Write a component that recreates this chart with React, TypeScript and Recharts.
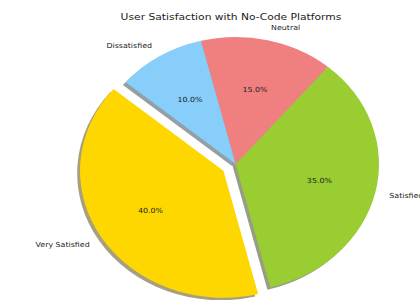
import React from 'react'
import { PieChart, Pie, Cell } from 'recharts'

const LABELS = ['Very Satisfied', 'Satisfied', 'Neutral', 'Dissatisfied']
const VALUES = [40, 35, 15, 10]
const COLORS = ['#FFD700', '#9ACD32', '#F08080', '#87CEFA']
const EXPLODE = [0.1, 0, 0, 0]
const TITLE = 'User Satisfaction with No-Code Platforms'

const data = LABELS.map((name, i) => ({ name, value: VALUES[i] }))

// the figure was squeezed, so the pie (and its text) is stretched sideways
const CX = 235.6
const CY = 164
const R = 127
const SX = 143.4 / 127
const START = 140
const TITLE_X = 231
const RAD = Math.PI / 180
const FONT = 'DejaVu Sans, sans-serif'

const total = VALUES.reduce((a, b) => a + b, 0)
const mids = VALUES.map((v, i) => {
  const before = VALUES.slice(0, i).reduce((a, b) => a + b, 0)
  return START + ((before + v / 2) / total) * 360
})

// darker, half transparent copy like matplotlib's shadow=True
function shade(hex: string) {
  const n = parseInt(hex.slice(1), 16)
  const r = Math.round(((n >> 16) & 255) * 0.3)
  const g = Math.round(((n >> 8) & 255) * 0.3)
  const b = Math.round((n & 255) * 0.3)
  return `rgb(${r},${g},${b})`
}

const SHADOW = 0.02 * R

function makeLabel(showExploded: boolean) {
  return (props: any) => {
    const { cx, cy, midAngle, index, percent } = props
    const exploded = EXPLODE[index] > 0
    if (exploded !== showExploded) return null
    const cos = Math.cos(-midAngle * RAD)
    const sin = Math.sin(-midAngle * RAD)
    return (
      <g key={`lbl-${index}`}>
        <text
          x={cx + 1.1 * R * cos}
          y={cy + 1.1 * R * sin}
          textAnchor={cos < 0 ? 'end' : 'start'}
          dominantBaseline="central"
          fontSize={7}
          fontFamily={FONT}
          fill="#222"
        >
          {LABELS[index]}
        </text>
        <text
          x={cx + 0.6 * R * cos}
          y={cy + 0.6 * R * sin}
          textAnchor="middle"
          dominantBaseline="central"
          fontSize={7}
          fontFamily={FONT}
          fill="#222"
        >
          {(percent * 100).toFixed(1)}%
        </text>
      </g>
    )
  }
}

function offset(i: number) {
  const d = EXPLODE[i] * R
  return { dx: d * Math.cos(-mids[i] * RAD), dy: d * Math.sin(-mids[i] * RAD) }
}

export default function App() {
  const ex = offset(0)
  // title centre in the unscaled coordinates of the stretched layer
  const titleLocal = CX + (TITLE_X - CX) / SX
  return (
    <div
      style={{
        position: 'absolute',
        left: 0,
        top: 0,
        width: 420,
        height: 300,
        overflow: 'hidden',
        background: '#fff',
      }}
    >
      <div
        style={{
          position: 'absolute',
          left: 0,
          top: 0,
          transform: `scaleX(${SX})`,
          transformOrigin: `${CX}px 0px`,
        }}
      >
        <PieChart width={420} height={300} margin={{ top: 0, right: 0, bottom: 0, left: 0 }}>
          {/* shadows */}
          <Pie
            data={data}
            dataKey="value"
            nameKey="name"
            cx={CX - SHADOW}
            cy={CY + SHADOW}
            outerRadius={R}
            startAngle={START}
            endAngle={START + 360}
            stroke="none"
            isAnimationActive={false}
          >
            {data.map((d, i) => (
              <Cell key={`s-${i}`} fill={EXPLODE[i] > 0 ? 'none' : shade(COLORS[i])} fillOpacity={0.5} />
            ))}
          </Pie>
          <Pie
            data={data}
            dataKey="value"
            nameKey="name"
            cx={CX + ex.dx - SHADOW}
            cy={CY + ex.dy + SHADOW}
            outerRadius={R}
            startAngle={START}
            endAngle={START + 360}
            stroke="none"
            isAnimationActive={false}
          >
            {data.map((d, i) => (
              <Cell key={`se-${i}`} fill={EXPLODE[i] > 0 ? shade(COLORS[i]) : 'none'} fillOpacity={0.5} />
            ))}
          </Pie>
          {/* wedges */}
          <Pie
            data={data}
            dataKey="value"
            nameKey="name"
            cx={CX}
            cy={CY}
            outerRadius={R}
            startAngle={START}
            endAngle={START + 360}
            stroke="none"
            labelLine={false}
            label={makeLabel(false)}
            isAnimationActive={false}
          >
            {data.map((d, i) => (
              <Cell key={`w-${i}`} fill={EXPLODE[i] > 0 ? 'none' : COLORS[i]} />
            ))}
          </Pie>
          <Pie
            data={data}
            dataKey="value"
            nameKey="name"
            cx={CX + ex.dx}
            cy={CY + ex.dy}
            outerRadius={R}
            startAngle={START}
            endAngle={START + 360}
            stroke="none"
            labelLine={false}
            label={makeLabel(true)}
            isAnimationActive={false}
          >
            {data.map((d, i) => (
              <Cell key={`we-${i}`} fill={EXPLODE[i] > 0 ? COLORS[i] : 'none'} />
            ))}
          </Pie>
        </PieChart>
        <div
          style={{
            position: 'absolute',
            left: titleLocal - 200,
            top: 11,
            width: 400,
            textAlign: 'center',
            fontFamily: FONT,
            fontSize: 9.5,
            color: '#222',
            whiteSpace: 'nowrap',
          }}
        >
          {TITLE}
        </div>
      </div>
    </div>
  )
}
